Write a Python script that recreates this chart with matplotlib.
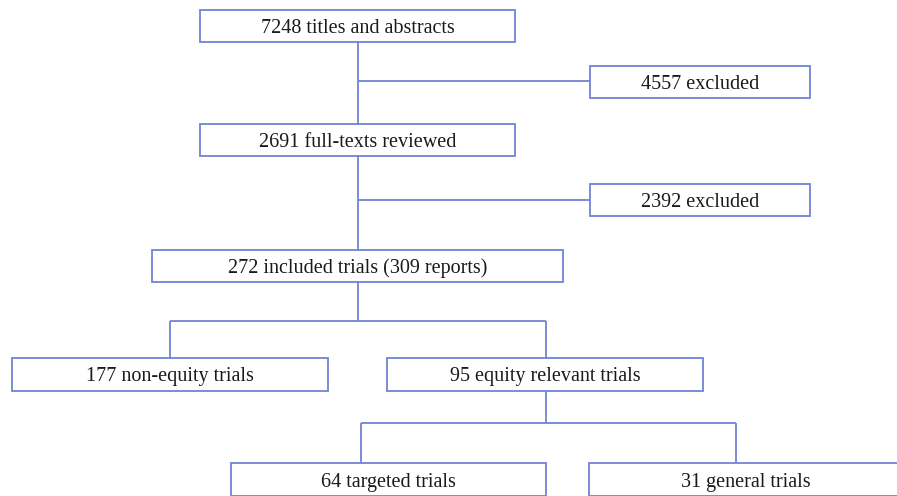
import matplotlib.pyplot as plt
from matplotlib.patches import Rectangle

# boxes: label, left, top, right, bottom (pixel space of the diagram)
labels = ["7248 titles and abstracts", "4557 excluded", "2691 full-texts reviewed",
          "2392 excluded", "272 included trials (309 reports)", "177 non-equity trials",
          "95 equity relevant trials", "64 targeted trials", "31 general trials"]
lefts = [200, 590, 200, 590, 152, 12, 387, 231, 589]
tops = [10, 66, 124, 184, 250, 358, 358, 463, 463]
rights = [515, 810, 515, 810, 563, 328, 703, 546, 900]
bottoms = [42, 98, 156, 216, 282, 391, 391, 496, 496]

# connector segments: x0, y0, x1, y1
seg_x0 = [358, 358, 358, 358, 358, 170, 170, 546, 546, 361, 361, 736]
seg_y0 = [42, 81, 156, 200, 282, 321, 321, 321, 391, 423, 423, 423]
seg_x1 = [358, 590, 358, 590, 358, 546, 170, 546, 546, 736, 361, 736]
seg_y1 = [124, 81, 250, 200, 321, 321, 358, 358, 423, 423, 463, 463]

line_col = "#7083d6"

fig = plt.figure(figsize=(8.97, 4.96), dpi=100)
ax = fig.add_axes([0, 0, 1, 1])
ax.set_xlim(0, 897)
ax.set_ylim(496, 0)
ax.axis("off")

for a, b, c, d in zip(seg_x0, seg_y0, seg_x1, seg_y1):
    ax.plot([a, c], [b, d], color=line_col, lw=1.3, solid_capstyle="butt")

for lab, l, t, r, b in zip(labels, lefts, tops, rights, bottoms):
    ax.add_patch(Rectangle((l, t), r - l, b - t, facecolor="white",
                           edgecolor=line_col, lw=1.3))
    cx = (l + r) / 2
    if lab.startswith("31"):
        cx = 746
    ax.text(cx, (t + b) / 2 + 2.5, lab,
            ha="center", va="center", fontsize=14.5, family="Liberation Serif",
            color="#1a1a1a")

fig.savefig("out.png", dpi=100)
